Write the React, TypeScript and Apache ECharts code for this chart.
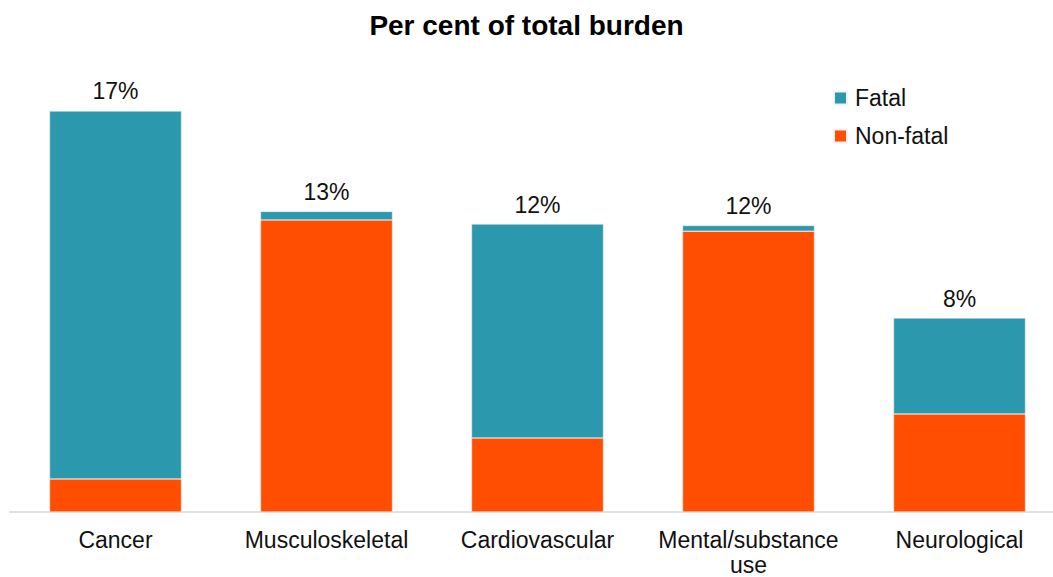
import React, { useEffect, useRef } from "react";
import * as echarts from "echarts";

const categories = ["Cancer", "Musculoskeletal", "Cardiovascular", "Mental/substance\nuse", "Neurological"];
const nonFatal = [1.39, 12.27, 3.11, 11.8, 4.12];
const fatal = [15.46, 0.36, 8.99, 0.24, 4.03];
const totalLabels = ["17%", "13%", "12%", "12%", "8%"];

export default function App() {
  const ref = useRef<HTMLDivElement>(null);
  useEffect(() => {
    if (!ref.current) return;
    const chart = echarts.init(ref.current, undefined, { renderer: "svg" });
    const font = "'Liberation Sans', Arial, sans-serif";
    chart.setOption({
      animation: false,
      backgroundColor: "#ffffff",
      textStyle: { fontFamily: font },
      title: {
        text: "Per cent of total burden",
        left: "center",
        top: 6,
        textStyle: { fontFamily: font, fontSize: 28, fontWeight: "bold", color: "#000000" },
      },
      legend: {
        orient: "vertical",
        left: 828,
        top: 81,
        itemWidth: 13,
        itemHeight: 13,
        itemGap: 14,
        icon: "rect",
        data: ["Fatal", "Non-fatal"],
        textStyle: { fontFamily: font, fontSize: 23, color: "#111111", lineHeight: 24, padding: [0, 0, 0, 3] },
      },
      grid: { left: 10, width: 1055, top: 36, height: 476, outerBoundsMode: "none", containLabel: false },
      xAxis: {
        type: "category",
        data: categories,
        axisLine: { lineStyle: { color: "#dde3e3", width: 2 } },
        axisTick: { show: false },
        axisLabel: { fontFamily: font, fontSize: 23, color: "#111111", margin: 15, lineHeight: 25, interval: 0 },
      },
      yAxis: { type: "value", min: 0, max: 20, show: false, splitLine: { show: false } },
      series: [
        {
          name: "Non-fatal",
          type: "bar",
          stack: "total",
          data: nonFatal,
          barWidth: 132,
          itemStyle: { color: "#FF4E02", borderColor: "#f2f2f2", borderWidth: 0.5 },
        },
        {
          name: "Fatal",
          type: "bar",
          stack: "total",
          data: fatal,
          barWidth: 132,
          itemStyle: { color: "#2C98AD", borderColor: "#f2f2f2", borderWidth: 0.5 },
          label: {
            show: true,
            position: "top",
            distance: 8,
            fontFamily: font,
            fontSize: 23,
            color: "#111111",
            formatter: (p: any) => totalLabels[p.dataIndex],
          },
        },
      ],
    });
    return () => chart.dispose();
  }, []);
  return <div ref={ref} style={{ position: "fixed", left: 0, top: 0, width: 1053, height: 577 }} />;
}
